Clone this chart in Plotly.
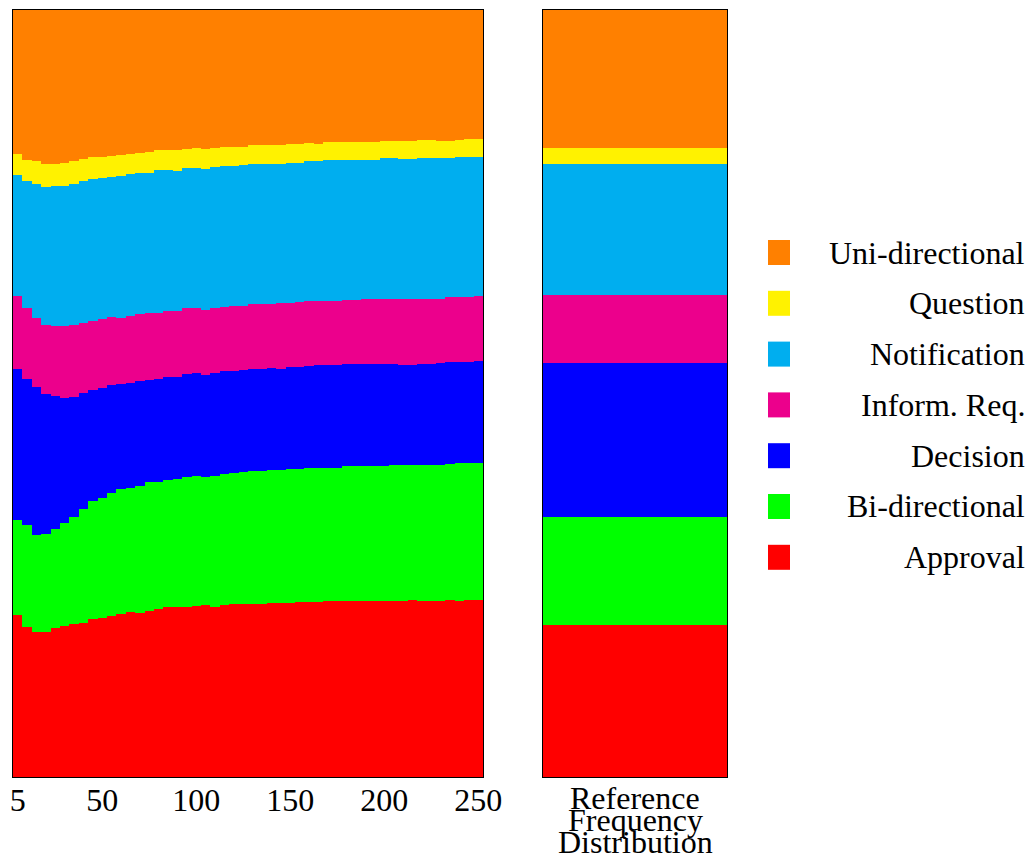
import plotly.graph_objects as go

# Message-length buckets (x) and share of each message type per bucket (%)
lengths = list(range(5, 251, 5))

approval = [21.1, 19.6, 18.9, 18.9, 19.4, 19.7, 19.9, 20.1, 20.6, 20.7,
            21.0, 21.3, 21.5, 21.4, 21.7, 21.9, 22.1, 22.2, 22.2, 22.3,
            22.5, 22.2, 22.4, 22.5, 22.5, 22.6, 22.6, 22.7, 22.7, 22.7,
            22.8, 22.8, 22.8, 22.9, 22.9, 22.9, 22.9, 22.9, 22.9, 22.9,
            22.9, 22.9, 23.0, 23.0, 23.0, 22.9, 23.0, 23.0, 23.1, 23.1]
bi_directional = [12.4, 13.3, 12.7, 12.8, 12.9, 13.4, 14.0, 14.9, 15.4, 15.6,
                  16.0, 16.2, 16.1, 16.6, 16.8, 16.6, 16.6, 16.7, 16.9, 16.9,
                  16.7, 17.1, 17.2, 17.1, 17.2, 17.3, 17.3, 17.3, 17.3, 17.4,
                  17.4, 17.5, 17.5, 17.4, 17.4, 17.6, 17.6, 17.6, 17.6, 17.6,
                  17.7, 17.7, 17.7, 17.7, 17.7, 17.8, 17.8, 17.9, 17.9, 17.9]
decision = [19.6, 19.0, 19.3, 18.2, 17.3, 16.3, 15.7, 15.1, 14.4, 14.3,
            14.1, 13.7, 13.7, 13.6, 13.3, 13.4, 13.4, 13.3, 13.4, 13.4,
            13.3, 13.4, 13.4, 13.3, 13.3, 13.4, 13.4, 13.3, 13.2, 13.3,
            13.3, 13.3, 13.3, 13.3, 13.3, 13.3, 13.3, 13.3, 13.3, 13.3,
            13.2, 13.1, 13.0, 13.2, 13.2, 13.2, 13.2, 13.2, 13.2, 13.2]
inform_req = [9.6, 9.3, 9.0, 9.0, 9.1, 9.4, 9.3, 9.1, 9.0, 9.0,
              8.8, 8.7, 8.8, 8.8, 8.7, 8.7, 8.7, 8.6, 8.6, 8.4,
              8.5, 8.5, 8.4, 8.4, 8.4, 8.4, 8.4, 8.4, 8.5, 8.4,
              8.4, 8.4, 8.4, 8.4, 8.4, 8.4, 8.4, 8.4, 8.4, 8.5,
              8.5, 8.6, 8.6, 8.4, 8.4, 8.4, 8.5, 8.5, 8.5, 8.5]
notification = [15.7, 16.6, 17.4, 18.0, 18.3, 18.3, 18.4, 18.6, 18.6, 18.3,
                18.3, 18.4, 18.4, 18.3, 18.3, 18.6, 18.3, 18.3, 18.3, 18.3,
                18.4, 18.3, 18.3, 18.3, 18.3, 18.3, 18.3, 18.2, 18.1, 18.2,
                18.1, 18.3, 18.2, 18.3, 18.3, 18.2, 18.3, 18.2, 18.2, 18.3,
                18.3, 18.2, 18.2, 18.4, 18.4, 18.3, 18.1, 18.2, 18.2, 18.2]
question = [2.7, 2.7, 3.0, 2.9, 2.9, 3.0, 3.0, 2.9, 2.8, 2.8,
            2.7, 2.8, 2.7, 2.7, 2.7, 2.6, 2.7, 2.7, 2.5, 2.5,
            2.6, 2.5, 2.5, 2.5, 2.4, 2.5, 2.5, 2.5, 2.5, 2.5,
            2.5, 2.3, 2.3, 2.4, 2.4, 2.4, 2.3, 2.3, 2.3, 2.3,
            2.3, 2.3, 2.3, 2.3, 2.3, 2.3, 2.3, 2.3, 2.3, 2.3]
uni_directional = [18.8, 19.6, 19.7, 20.1, 20.0, 19.9, 19.7, 19.4, 19.2, 19.1,
                   19.0, 18.9, 18.7, 18.6, 18.5, 18.3, 18.2, 18.3, 18.1, 18.0,
                   18.1, 18.0, 17.9, 17.8, 17.8, 17.6, 17.6, 17.6, 17.6, 17.5,
                   17.5, 17.4, 17.4, 17.2, 17.2, 17.2, 17.2, 17.2, 17.2, 17.0,
                   17.0, 17.1, 17.1, 17.0, 17.0, 17.0, 17.0, 16.9, 16.9, 16.8]

# Reference frequency distribution (%), same order as the series
reference = [19.9, 14.0, 20.1, 8.9, 17.1, 2.1, 18.0]

series_names = ["Approval", "Bi-directional", "Decision", "Inform. Req.",
                "Notification", "Question", "Uni-directional"]
series_values = [approval, bi_directional, decision, inform_req,
                 notification, question, uni_directional]
series_colors = ["#FF0000", "#00FF00", "#0000FF", "#EC008C",
                 "#00AEEF", "#FFF200", "#FF8000"]

x_ticks = [5, 50, 100, 150, 200, 250]
ref_label_lines = ["Reference", "Frequency", "Distribution"]

FONT = "Liberation Serif"
FSIZE = 32

fig = go.Figure()

for name, vals, col in zip(series_names, series_values, series_colors):
    fig.add_trace(go.Bar(x=lengths, y=vals, name=name, marker_color=col,
                         marker_line_width=0, showlegend=False,
                         xaxis="x", yaxis="y"))

for name, val, col in zip(series_names, reference, series_colors):
    fig.add_trace(go.Bar(x=["ref"], y=[val], name=name, marker_color=col,
                         marker_line_width=0, showlegend=False,
                         xaxis="x2", yaxis="y2"))

# Layout geometry (pixels)
W, H = 1034, 861
ML, MR, MT, MB = 13, 307, 10, 84
pw = W - ML - MR
ph = H - MT - MB
left_end = 483
right_start = 543


def px_x(px):
    return (px - ML) / pw


def px_y(py):
    return (H - MB - py) / ph


axis_common = dict(showgrid=False, zeroline=False, showline=True,
                   linecolor="black", linewidth=1, mirror=True, ticks="")

fig.update_layout(
    width=W, height=H,
    margin=dict(l=ML, r=MR, t=MT, b=MB),
    barmode="stack", barnorm="percent", bargap=0,
    plot_bgcolor="white", paper_bgcolor="white",
    font=dict(family=FONT, size=FSIZE, color="black"),
    xaxis=dict(domain=[0, px_x(left_end)], range=[2.5, 252.5],
               tickmode="array", tickvals=x_ticks,
               ticktext=[str(v) for v in x_ticks],
               tickfont=dict(family=FONT, size=FSIZE, color="black"),
               ticklabelstandoff=-5,
               **axis_common),
    yaxis=dict(range=[0, 100], showticklabels=False, **axis_common),
    xaxis2=dict(domain=[px_x(right_start), 1], showticklabels=False,
                anchor="y2", **axis_common),
    yaxis2=dict(range=[0, 100], showticklabels=False, anchor="x2",
                **axis_common),
)

# Multi-line category label under the reference bar
for i, line in enumerate(ref_label_lines):
    fig.add_annotation(text=line, xref="x2 domain", x=0.5, xanchor="center",
                       yref="paper", y=px_y(798 + 22 * i), yanchor="middle",
                       showarrow=False,
                       font=dict(family=FONT, size=FSIZE, color="black"))

# Legend: colour squares on the left, labels right-aligned
legend_names = list(reversed(series_names))
legend_colors = list(reversed(series_colors))
for i, (name, col) in enumerate(zip(legend_names, legend_colors)):
    cy = 252.5 + 50.8 * i
    fig.add_shape(type="rect", xref="paper", yref="paper",
                  x0=px_x(768), x1=px_x(790),
                  y0=px_y(cy + 12.5), y1=px_y(cy - 12.5),
                  fillcolor=col, line_width=0)
    fig.add_annotation(text=name, xref="paper", x=px_x(1027), xanchor="right",
                       yref="paper", y=px_y(cy), yanchor="middle",
                       showarrow=False,
                       font=dict(family=FONT, size=FSIZE, color="black"))

fig.write_html("out.html")
